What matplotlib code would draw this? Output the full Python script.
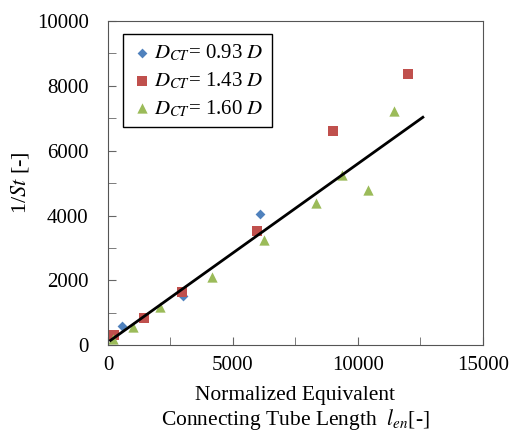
import matplotlib
matplotlib.use("Agg")
import matplotlib.pyplot as plt
from matplotlib.ticker import MultipleLocator

plt.rcParams["font.family"] = "Liberation Serif"
plt.rcParams["mathtext.fontset"] = "stix"

# D_CT = 0.93 D
x_093 = [570, 3000, 6100]
y_093 = [590, 1510, 4040]
# D_CT = 1.43 D
x_143 = [240, 1450, 2950, 5970, 8990, 11990]
y_143 = [330, 850, 1630, 3530, 6600, 8360]
# D_CT = 1.60 D
x_160 = [200, 990, 2080, 4150, 6250, 8320, 9360, 10410, 11450]
y_160 = [200, 570, 1180, 2110, 3260, 4390, 5250, 4780, 7220]

# fitted line end points
fit_x = [100, 12600]
fit_y = [150, 7030]

fig = plt.figure(figsize=(5.12, 4.37), dpi=100)
ax = fig.add_axes([0.211, 0.21, 0.732, 0.742])

ax.plot(fit_x, fit_y, color="black", lw=2.0, zorder=3)
ax.scatter(x_093, y_093, marker="D", s=25, color="#4F81BD", linewidths=0,
           label=r"$D_{CT}$= 0.93 $D$", zorder=2)
ax.scatter(x_143, y_143, marker="s", s=55, color="#C0504D", linewidths=0,
           label=r"$D_{CT}$= 1.43 $D$", zorder=2)
ax.scatter(x_160, y_160, marker="^", s=55, color="#9BBB59", linewidths=0,
           label=r"$D_{CT}$= 1.60 $D$", zorder=2)

ax.set_xlim(0, 15000)
ax.set_ylim(0, 10000)
ax.xaxis.set_major_locator(MultipleLocator(5000))
ax.xaxis.set_minor_locator(MultipleLocator(2500))
ax.yaxis.set_major_locator(MultipleLocator(2000))
ax.yaxis.set_minor_locator(MultipleLocator(1000))
ax.tick_params(which="both", direction="in", color="#666666", labelsize=15)
ax.tick_params(which="major", length=6)
ax.tick_params(which="minor", length=6)
ax.tick_params(axis="y", pad=14)
ax.tick_params(axis="x", pad=8)
for sp in ax.spines.values():
    sp.set_color("#555555")

ax.set_xlabel("Normalized Equivalent\nConnecting Tube Length  $l_{en}$[-]",
              fontsize=15.5, linespacing=1.1, labelpad=8)
ax.set_ylabel("1/$St$ [-]", fontsize=16, labelpad=4)

leg = ax.legend(loc="upper left", bbox_to_anchor=(0.04, 0.96), fontsize=15,
                fancybox=False, edgecolor="black", framealpha=1,
                borderaxespad=0, handletextpad=0.1, handlelength=1.0,
                borderpad=0.4, labelspacing=0.35, scatterpoints=1)
leg.get_frame().set_linewidth(1.0)

fig.savefig("out.png", dpi=100)
